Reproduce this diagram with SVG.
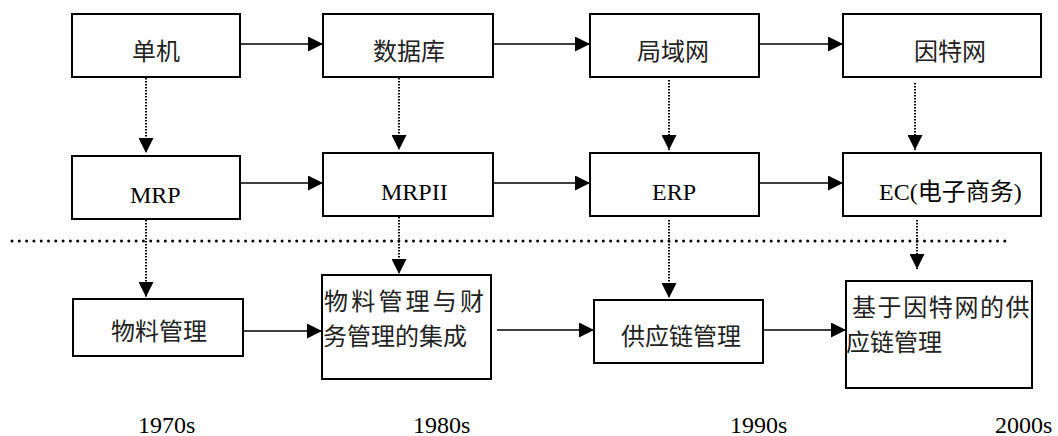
<svg xmlns="http://www.w3.org/2000/svg" width="1058" height="436" viewBox="0 0 1058 436">
  <defs>
    <marker id="arrow" markerUnits="userSpaceOnUse" markerWidth="15" markerHeight="15" refX="15" refY="7.5" orient="auto">
      <path d="M0,0 L15,7.5 L0,15 Z" fill="#000"/>
    </marker>
    <style>
      .box { fill: #fff; stroke: #000; stroke-width: 2; }
      .cjk { font-family: "Noto Sans CJK SC", "Noto Sans CJK TC", sans-serif; font-size: 24px; fill: #222; }
      .lat { font-family: "Liberation Serif", "Noto Sans CJK SC", serif; font-size: 24px; fill: #000; }
      .solid { stroke: #000; stroke-width: 1.6; fill: none; marker-end: url(#arrow); }
      .dotted { stroke: #000; stroke-width: 2; stroke-dasharray: 1.5 1.5; fill: none; marker-end: url(#arrow); }
      .divider { stroke: #000; stroke-width: 3; stroke-linecap: round; stroke-dasharray: 0 7.3; fill: none; }
    </style>
  </defs>
  <rect width="1058" height="436" fill="#fff"/>

  <!-- era divider -->
  <line class="divider" x1="12" y1="241" x2="1007" y2="241"/>

  <!-- connectors -->
  <g id="connectors">
    <!-- technology row -->
    <line class="solid" x1="240" y1="44" x2="323" y2="44"/>
    <line class="solid" x1="493" y1="44" x2="590" y2="44"/>
    <line class="solid" x1="759" y1="44" x2="843" y2="44"/>
    <!-- system row -->
    <line class="solid" x1="240" y1="183" x2="323" y2="183"/>
    <line class="solid" x1="493" y1="183" x2="590" y2="183"/>
    <line class="solid" x1="759" y1="183" x2="843" y2="183"/>
    <!-- management row -->
    <line class="solid" x1="243" y1="331" x2="322" y2="331"/>
    <line class="solid" x1="497" y1="330" x2="594" y2="330"/>
    <line class="solid" x1="763" y1="330" x2="846" y2="330"/>
    <!-- vertical links -->
    <line class="dotted" x1="146" y1="78" x2="146" y2="153"/>
    <line class="dotted" x1="399" y1="78" x2="399" y2="150"/>
    <line class="dotted" x1="669" y1="80" x2="669" y2="150"/>
    <line class="dotted" x1="915" y1="83" x2="915" y2="150"/>
    <line class="dotted" x1="146" y1="220" x2="146" y2="297"/>
    <line class="dotted" x1="399" y1="217" x2="399" y2="274"/>
    <line class="dotted" x1="669" y1="220" x2="669" y2="298"/>
    <line class="dotted" x1="917" y1="220" x2="917" y2="269"/>
  </g>

  <!-- technology row -->
  <g id="n-standalone">
    <rect class="box" x="72" y="14" width="168" height="63"/>
    <text class="cjk" x="132" y="60">单机</text>
  </g>
  <g id="n-database">
    <rect class="box" x="323" y="14" width="170" height="63"/>
    <text class="cjk" x="373" y="60">数据库</text>
  </g>
  <g id="n-lan">
    <rect class="box" x="590" y="14" width="169" height="63"/>
    <text class="cjk" x="637" y="60">局域网</text>
  </g>
  <g id="n-internet">
    <rect class="box" x="843" y="14" width="198" height="63"/>
    <text class="cjk" x="914" y="60">因特网</text>
  </g>

  <!-- system row -->
  <g id="n-mrp">
    <rect class="box" x="72" y="156" width="168" height="63"/>
    <text class="lat" x="130" y="203">MRP</text>
  </g>
  <g id="n-mrpii">
    <rect class="box" x="323" y="153" width="170" height="63"/>
    <text class="lat" x="381" y="200">MRPII</text>
  </g>
  <g id="n-erp">
    <rect class="box" x="590" y="153" width="169" height="63"/>
    <text class="lat" x="652" y="200">ERP</text>
  </g>
  <g id="n-ec">
    <rect class="box" x="843" y="153" width="198" height="63"/>
    <text class="lat" x="879" y="200">EC(电子商务)</text>
  </g>

  <!-- management row -->
  <g id="n-material">
    <rect class="box" x="73" y="299" width="170" height="57"/>
    <text class="cjk" x="111" y="340">物料管理</text>
  </g>
  <g id="n-material-finance">
    <rect class="box" x="322" y="275" width="169" height="104"/>
    <text class="cjk"><tspan x="324" y="310" letter-spacing="3.2">物料管理与财</tspan><tspan x="323" y="345">务管理的集成</tspan></text>
  </g>
  <g id="n-scm">
    <rect class="box" x="594" y="300" width="169" height="63"/>
    <text class="cjk" x="621" y="345">供应链管理</text>
  </g>
  <g id="n-internet-scm">
    <rect class="box" x="846" y="281" width="186" height="107"/>
    <text class="cjk"><tspan x="852" y="316" letter-spacing="1.6">基于因特网的供</tspan><tspan x="846" y="351">应链管理</tspan></text>
  </g>

  <!-- decade labels -->
  <g id="decades">
    <text class="lat" x="138" y="433">1970s</text>
    <text class="lat" x="413" y="433">1980s</text>
    <text class="lat" x="730" y="433">1990s</text>
    <text class="lat" x="995" y="433">2000s</text>
  </g>
</svg>
